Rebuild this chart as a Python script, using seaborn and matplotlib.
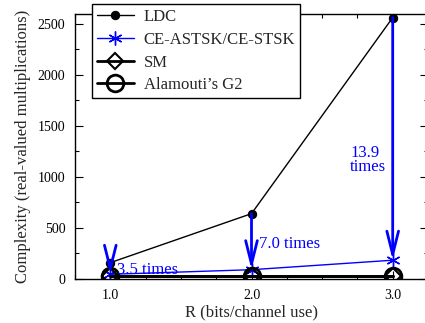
import matplotlib
matplotlib.use("Agg")
import matplotlib.pyplot as plt
from matplotlib.ticker import MultipleLocator
import seaborn as sns
import pandas as pd

rates = [1.0, 2.0, 3.0]
ldc = [160, 640, 2560]
ce_stsk = [46, 91, 184]
sm = [32, 32, 32]
alamouti = [32, 32, 32]
ratio_labels = ["3.5 times", "7.0 times", "13.9\ntimes"]
xtick_labels = ["1.0", "2.0", "3.0"]

sns.set_theme(style="ticks")
plt.rcParams['font.family'] = ['Liberation Serif', 'DejaVu Serif']
plt.rcParams['mathtext.fontset'] = 'stix'

fig = plt.figure(figsize=(4.25, 3.23), dpi=100)
ax = fig.add_axes([75/425, 44/323, 353/425, 265.5/323])

blue = "#0000ff"
df = pd.DataFrame({"R": rates, "LDC": ldc, "CE": ce_stsk, "SM": sm, "AL": alamouti})

sns.lineplot(data=df, x="R", y="LDC", ax=ax, color="black", lw=1.0,
             marker="o", markersize=6, markeredgecolor="black", label="LDC")
sns.lineplot(data=df, x="R", y="CE", ax=ax, color=blue, lw=1.0,
             marker=(6, 2, 0), markersize=10, markeredgewidth=1.0, markeredgecolor=blue,
             label="CE-ASTSK/CE-STSK")
sns.lineplot(data=df, x="R", y="SM", ax=ax, color="black", lw=2.0,
             marker="D", markersize=8, markerfacecolor="none", markeredgecolor="black",
             markeredgewidth=1.5, label="SM")
sns.lineplot(data=df, x="R", y="AL", ax=ax, color="black", lw=2.0,
             marker="o", markersize=12, markerfacecolor="none", markeredgecolor="black",
             markeredgewidth=2.0, label="Alamouti\u2019s G2")

for xv, top, bot in zip(rates, ldc, ce_stsk):
    ax.annotate("", xy=(xv, bot), xytext=(xv, top),
                arrowprops=dict(arrowstyle="->,head_length=1.4,head_width=0.35",
                                color=blue, lw=2.0, shrinkA=0, shrinkB=0))

ax.text(1.05, 85, ratio_labels[0], color=blue, fontsize=12, va="center", ha="left")
ax.text(2.05, 345, ratio_labels[1], color=blue, fontsize=12, va="center", ha="left")
ax.text(2.7, 1165, ratio_labels[2], color=blue, fontsize=12, va="center", ha="left",
        linespacing=0.85)

ax.set_xlim(0.75, 3.25)
ax.set_ylim(0, 2600)
ax.set_xticks(rates)
ax.set_xticklabels(xtick_labels)
ax.set_yticks([0, 500, 1000, 1500, 2000, 2500])
ax.xaxis.set_minor_locator(MultipleLocator(0.25))
ax.yaxis.set_minor_locator(MultipleLocator(250))
ax.tick_params(which="both", direction="in", top=True, right=True, labelsize=10,
               width=0.8, color="black", labelcolor="black")
ax.tick_params(which="major", length=6)
ax.tick_params(which="minor", length=3)
ax.tick_params(axis="y", which="major", pad=7)
ax.tick_params(axis="x", which="major", pad=7)
for s in ax.spines.values():
    s.set_color("black")
    s.set_linewidth(1.0)

ax.set_xlabel("R (bits/channel use)", fontsize=12, labelpad=2)
ax.set_ylabel("Complexity (real-valued multiplications)", fontsize=12, labelpad=5)

leg = ax.legend(loc="upper left", bbox_to_anchor=(17/353, 1.035), fontsize=12,
                frameon=True, fancybox=False, edgecolor="black", framealpha=1,
                handlelength=2.2, borderpad=0.3, labelspacing=0.4, handletextpad=0.6,
                borderaxespad=0)
leg.get_frame().set_linewidth(1.0)

fig.savefig("out.png", dpi=100)
